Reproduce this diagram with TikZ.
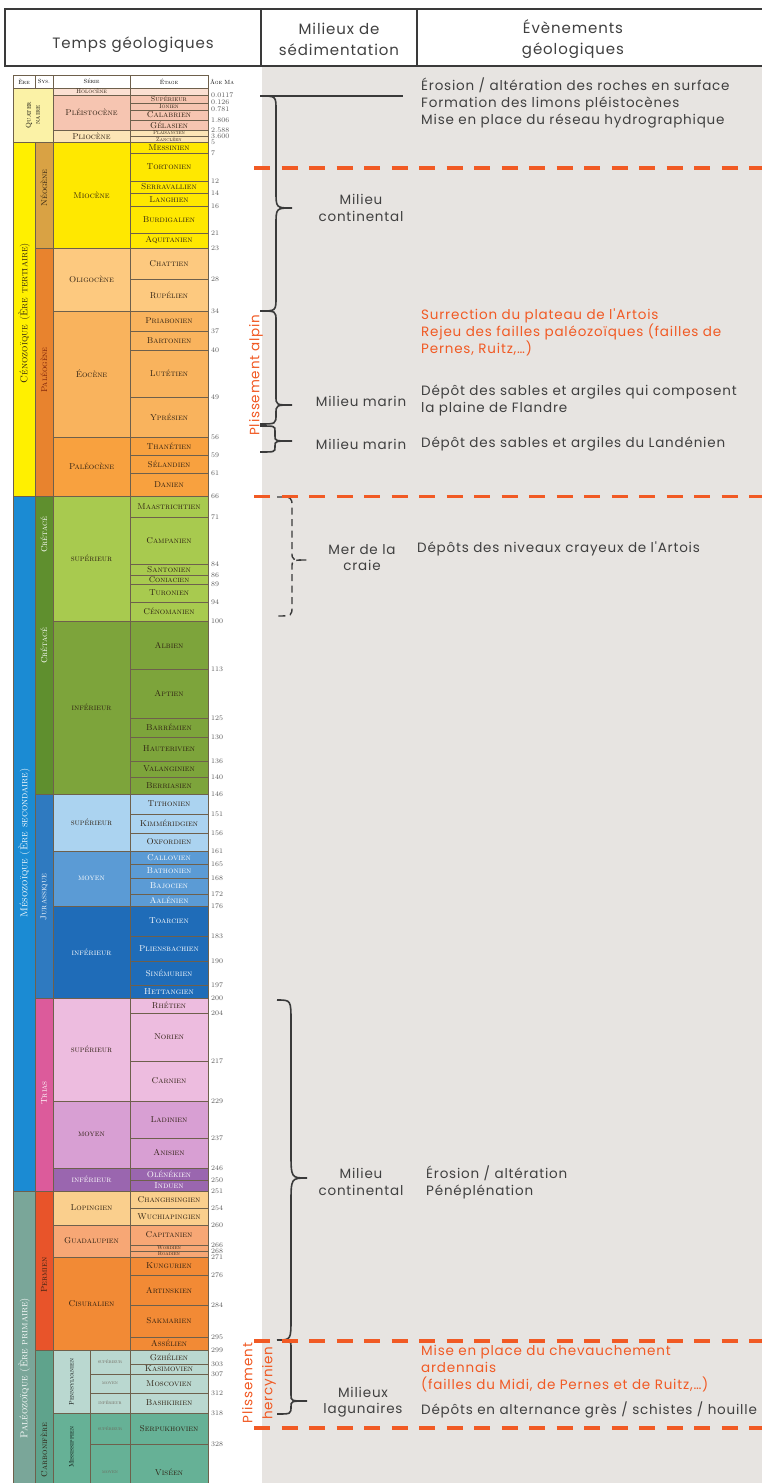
\documentclass[tikz,border=0pt]{standalone}
\usepackage{fontspec}
\newfontfamily\geofont[LetterSpace=6]{Poppins}
\usetikzlibrary{positioning}

% couleurs de l'echelle stratigraphique
\definecolor{quater}{HTML}{FBF2A6}
\definecolor{holo}{HTML}{FBE0D2}
\definecolor{pleisto}{HTML}{F6C5B1}
\definecolor{plio}{HTML}{FCE5B6}
\definecolor{mio}{HTML}{FFE800}
\definecolor{neog}{HTML}{D9A244}
\definecolor{cenoz}{HTML}{FFF000}
\definecolor{oligo}{HTML}{FDC97F}
\definecolor{eoc}{HTML}{F9B35D}
\definecolor{paleoc}{HTML}{F8A13F}
\definecolor{paleog}{HTML}{E8832E}
\definecolor{cretsup}{HTML}{A8CA4F}
\definecolor{cretinf}{HTML}{7DA43B}
\definecolor{cret}{HTML}{5F8F2E}
\definecolor{mesoz}{HTML}{1B8BD3}
\definecolor{jursup}{HTML}{ABD3F0}
\definecolor{jurmoy}{HTML}{5B9BD5}
\definecolor{jurinf}{HTML}{1F6CB8}
\definecolor{jur}{HTML}{2F7AC0}
\definecolor{triasup}{HTML}{EDBCDF}
\definecolor{triamoy}{HTML}{D89FD3}
\definecolor{triainf}{HTML}{9A66AF}
\definecolor{trias}{HTML}{DC5B9B}
\definecolor{loping}{HTML}{FACF8D}
\definecolor{guadal}{HTML}{F7A775}
\definecolor{cisur}{HTML}{F28A35}
\definecolor{perm}{HTML}{E8542A}
\definecolor{paleoz}{HTML}{7AA699}
\definecolor{pennsyl}{HTML}{BAD8D0}
\definecolor{mississ}{HTML}{66B196}
\definecolor{carbo}{HTML}{5FA38C}
% couleurs de la mise en page
\definecolor{fond}{HTML}{E7E4E1}
\definecolor{trait}{HTML}{3A3A3A}
\definecolor{texte}{HTML}{404040}
\definecolor{tecto}{HTML}{F15A24}
\definecolor{bordure}{HTML}{6E604C}
\definecolor{brun}{HTML}{2E2012}
\definecolor{rougebrun}{HTML}{7A1E08}
\definecolor{chiffre}{HTML}{5A5A5A}

\tikzset{
  cadre/.style = {draw = trait, line width = 1.3pt},
  etage/.style = {draw = bordure, line width = 0.5pt},
  nometage/.style = {inner sep = 0pt},
  nomserie/.style = {font = \fontsize{8.5}{9}\selectfont\scshape, inner sep = 0pt},
  nomsysteme/.style = {font = \fontsize{8.5}{9}\selectfont\scshape, rotate = 90, inner sep = 0pt, align = center},
  nomere/.style = {font = \fontsize{10}{11}\selectfont\scshape, rotate = 90, inner sep = 0pt},
  ageMa/.style = {font = \fontsize{7}{7}\selectfont, text = chiffre, anchor = west, inner sep = 0pt},
  entete/.style = {font = \geofont\fontsize{15}{21}\selectfont, text = texte, align = center},
  milieu/.style = {font = \geofont\fontsize{13.5}{16.5}\selectfont, text = texte, align = center},
  evenement/.style = {font = \geofont\fontsize{13.5}{17}\selectfont, text = texte, align = left, anchor = west, inner sep = 0pt},
  tectonique/.style = {evenement, text = tecto},
  accol/.style = {draw = trait, line width = 1.6pt},
  limite/.style = {draw = tecto, line width = 3.6pt, dash pattern = on 16pt off 11.5pt},
}

% accolade : style, x bouts, x corps, x pointe, y haut, y pointe, y bas, rayon bouts, rayon pointe
\newcommand{\accolade}[9]{%
  \draw[#1] (#2,#5) .. controls (#3,#5) .. (#3,{#5+#8}) -- (#3,{#6-#9})
    .. controls (#3,#6) .. (#4,#6) .. controls (#3,#6) .. (#3,{#6+#9})
    -- (#3,{#7-#8}) .. controls (#3,#7) .. (#2,#7);}

\begin{document}
\begin{tikzpicture}[x = 1pt, y = -1pt]
\useasboundingbox (0,0) rectangle (762,1483);
\fill[white] (0,0) rectangle (762,1483);
\fill[fond] (262,66) rectangle (762,1483);

% en-tete
\draw[cadre] (762,9) -- (5,9) -- (5,66) -- (762,66);
\draw[cadre] (261,9) -- (261,66);
\draw[cadre] (417,9) -- (417,66);
\node[entete] (htemps) at (133,45) {Temps géologiques};
\node[entete] (hmilieux) at (339,39) {Milieux de\\sédimentation};
\node[entete] (hevts) at (573,39) {Évènements\\géologiques};

%%% echelle stratigraphique
\draw[etage, fill = white] (13,75) rectangle (208,88);
\foreach \xa/\xb/\nom [count = \i] in {13/35/Ère, 35/53/Sys., 53/130/Série, 130/208/Étage}
  \draw[etage] (\xa,75) rectangle (\xb,88) node (tete\i) [midway, font = \fontsize{6}{6}\selectfont\scshape] {\nom};
\node (teteage) [anchor = west, inner sep = 0pt, font = \fontsize{6}{6}\selectfont\scshape] at (210,81.5) {Âge Ma};

% series
\foreach \ya/\yb/\fc/\nom/\tc [count = \i] in {
  88/95/holo/Holocène/brun, 95/130/pleisto/Pléistocène/brun, 130/142/plio/Pliocène/brun,
  142/248/mio/Miocène/brun, 248/311/oligo/Oligocène/brun, 311/437/eoc/Éocène/brun,
  437/496/paleoc/Paléocène/brun, 496/621/cretsup/supérieur/brun, 621/794/cretinf/inférieur/brun,
  794/851/jursup/supérieur/brun, 851/906/jurmoy/moyen/white, 906/998/jurinf/inférieur/white,
  998/1101/triasup/supérieur/brun, 1101/1168/triamoy/moyen/brun, 1168/1191/triainf/inférieur/white,
  1191/1225/loping/Lopingien/brun, 1225/1257/guadal/Guadalupien/brun, 1257/1350/cisur/Cisuralien/brun}
{
  \fill[\fc] (53,\ya) rectangle (208,\yb);
  \draw[etage] (53,\ya) rectangle (130,\yb);
  \pgfmathsetmacro\fsize{min(8.5,(\yb-\ya)*0.9)}
  \node[nomserie, text = \tc, font = \fontsize{\fsize}{\fsize}\selectfont\scshape] (serie\i) at (91.5,{(\ya+\yb)/2}) {\nom};
}
\draw[etage] (130,88) rectangle (208,95);

% carbonifere : sous-systemes et series
\fill[pennsyl] (53,1350) rectangle (208,1413);
\fill[mississ] (53,1413) rectangle (208,1500);
\draw[etage] (53,1350) rectangle (90,1413);
\draw[etage] (53,1413) rectangle (90,1500);
\node[nomserie, rotate = 90, font = \fontsize{6.5}{7}\selectfont\scshape] (pennsyl) at (71.5,1382) {Pennsylvanien};
\node[nomserie, rotate = 90, font = \fontsize{6.5}{7}\selectfont\scshape] (mississ) at (71.5,1447) {Mississippien};
\foreach \ya/\yb/\nom [count = \i] in {1350/1374/supérieur, 1374/1393/moyen, 1393/1413/inférieur, 1413/1444/supérieur, 1444/1500/moyen}
{
  \draw[etage] (90,\ya) rectangle (130,\yb);
  \node[nomserie, font = \fontsize{5}{5}\selectfont\scshape, text = brun!70] (carbserie\i) at (110,{(\ya+\yb)/2}) {\nom};
}

% etages
\foreach \ya/\yb/\nom/\tc [count = \i] in {
  95/103/Supérieur/brun, 103/110/Ionien/brun, 110/120/Calabrien/brun, 120/130/Gélasien/brun,
  130/136/Plaisancien/brun, 136/142/Zancléen/brun,
  142/153/Messinien/brun, 153/181/Tortonien/brun, 181/193/Serravallien/brun, 193/206/Langhien/brun,
  206/233/Burdigalien/brun, 233/248/Aquitanien/brun,
  248/279/Chattien/brun, 279/311/Rupélien/brun,
  311/331/Priabonien/brun, 331/350/Bartonien/brun, 350/397/Lutétien/brun, 397/437/Yprésien/brun,
  437/455/Thanétien/brun, 455/473/Sélandien/brun, 473/496/Danien/brun,
  496/517/Maastrichtien/brun, 517/564/Campanien/brun, 564/575/Santonien/brun, 575/584/Coniacien/brun,
  584/602/Turonien/brun, 602/621/Cénomanien/brun,
  621/669/Albien/brun, 669/718/Aptien/brun, 718/737/Barrémien/brun, 737/761/Hauterivien/brun,
  761/777/Valanginien/brun, 777/794/Berriasien/brun,
  794/814/Tithonien/brun, 814/833/Kimméridgien/brun, 833/851/Oxfordien/brun,
  851/864/Callovien/white, 864/878/Bathonien/white, 878/894/Bajocien/white, 894/906/Aalénien/white,
  906/936/Toarcien/white, 936/961/Pliensbachien/white, 961/985/Sinémurien/white, 985/998/Hettangien/white,
  998/1013/Rhétien/brun, 1013/1061/Norien/brun, 1061/1101/Carnien/brun,
  1101/1138/Ladinien/brun, 1138/1168/Anisien/brun, 1168/1180/Olénékien/white, 1180/1191/Induen/white,
  1191/1208/Changhsingien/brun, 1208/1225/Wuchiapingien/brun, 1225/1245/Capitanien/brun,
  1245/1251/Wordien/brun, 1251/1257/Roadien/brun, 1257/1275/Kungurien/brun, 1275/1305/Artinskien/brun,
  1305/1337/Sakmarien/brun, 1337/1350/Assélien/brun,
  1350/1364/Gzhélien/brun, 1364/1374/Kasimovien/brun, 1374/1393/Moscovien/brun, 1393/1413/Bashkirien/brun,
  1413/1444/Serpukhovien/brun, 1444/1500/Viséen/brun}
{
  \draw[etage] (130,\ya) rectangle (208,\yb);
  \pgfmathsetmacro\fsize{min(8.5,(\yb-\ya)*0.9)}
  \node[nometage, text = \tc, font = \fontsize{\fsize}{\fsize}\selectfont\scshape] (etage\i) at (169,{(\ya+\yb)/2}) {\nom};
}

% systemes
\fill[quater] (13,88) rectangle (53,142);
\draw[etage] (13,88) rectangle (53,142);
\node[nomsysteme, font = \fontsize{7}{9}\selectfont\scshape] (quaternaire) at (33,115) {Quater\\naire};
\foreach \ya/\yb/\fc/\nom/\tc/\ym [count = \i] in {
  142/248/neog/Néogène/brun/188, 248/496/paleog/Paléogène/rougebrun/370,
  496/794/cret/Crétacé/white/535, 794/998/jur/Jurassique/white/897,
  998/1191/trias/Trias/white/1093, 1191/1350/perm/Permien/brun/1275,
  1350/1500/carbo/Carbonifère/brun/1450}
{
  \fill[\fc] (35,\ya) rectangle (53,\yb);
  \draw[etage] (35,\ya) rectangle (53,\yb);
  \node[nomsysteme, text = \tc] (systeme\i) at (44,\ym) {\nom};
}
\node[nomsysteme, text = white] (cretinf) at (44,646) {Crétacé};

% eres
\foreach \ya/\yb/\fc/\nom/\tc/\ym [count = \i] in {
  142/496/cenoz/Cénozoïque (Ère tertiaire)/brun/313,
  496/1191/mesoz/Mésozoïque (Ère secondaire)/white/843,
  1191/1500/paleoz/Paléozoïque (Ère primaire)/white/1368}
{
  \fill[\fc] (13,\ya) rectangle (35,\yb);
  \draw[etage] (13,\ya) rectangle (35,\yb);
  \node[nomere, text = \tc] (ere\i) at (24,\ym) {\nom};
}

% ages en Ma
\foreach \y/\a [count = \i] in {
  95/0.0117, 102/0.126, 109/0.781, 120/1.806, 130/2.588, 136/3.600, 142/5, 153/7, 181/12, 193/14,
  206/16, 233/21, 248/23, 279/28, 311/34, 331/37, 350/40, 397/49, 437/56, 455/59, 473/61, 496/66,
  517/71, 564/84, 575/86, 584/89, 602/94, 621/100, 669/113, 718/125, 737/130, 761/136, 777/140,
  794/146, 814/151, 833/156, 851/161, 864/165, 878/168, 894/172, 906/176, 936/183, 961/190,
  985/197, 998/200, 1013/204, 1061/217, 1101/229, 1138/237, 1168/246, 1180/250, 1191/251,
  1208/254, 1225/260, 1245/266, 1251/268, 1257/271, 1275/276, 1305/284, 1337/295, 1350/299,
  1364/303, 1374/307, 1393/312, 1413/318, 1444/328}
  \node[ageMa] (age\i) at (211,\y) {\a};

%%% accolades des milieux
\draw[accol] (260,96) -- (403,96);
\accolade{accol}{260}{276}{292}{96}{208}{311}{14}{17}
\accolade{accol}{260}{276}{292}{311}{405}{424}{10}{9}
\accolade{accol}{260}{275}{292}{426}{441}{452}{5}{5}
\accolade{accol, line width = 1.4pt, dash pattern = on 7pt off 4.5pt}{277}{292}{307}{497}{560}{616}{10}{8}
\accolade{accol}{277}{291}{307}{1000}{1178}{1340}{22}{26}
\accolade{accol}{277}{291}{307}{1340}{1401}{1414}{8}{6}

% limites des grandes phases
\coordinate (lim1) at (254,168);
\coordinate (lim2) at (254,496.5);
\coordinate (lim3) at (254,1341);
\coordinate (lim4) at (254,1428);
\foreach \l in {lim1, lim2, lim3, lim4}
  \draw[limite] (\l) -- (\l -| 762,0);

% plissements
\node[tectonique, anchor = center, rotate = 90] (alpin) at (256,375) {Plissement alpin};
\node[tectonique, anchor = center, rotate = 90, align = center, font = \geofont\fontsize{13.5}{20}\selectfont] (hercyn) at (259,1383) {Plissement\\hercynien};

% milieux de sedimentation
\node[milieu] (cont1) at (361,208) {Milieu\\continental};
\node[milieu] (marin1) at (361,401) {Milieu marin};
\node[milieu] (marin2) at (361,444) {Milieu marin};
\node[milieu] (craie) at (362,557.5) {Mer de la\\craie};
\node[milieu] (cont2) at (361,1182) {Milieu\\continental};
\node[milieu] (lagune) at (363,1402) {Milieux\\lagunaires};

% evenements geologiques
\node[evenement] (evt1) at (421,103) {Érosion / altération des roches en surface\\Formation des limons pléistocènes\\Mise en place du réseau hydrographique};
\node[tectonique] (evt2) at (421,332) {Surrection du plateau de l'Artois\\Rejeu des failles paléozoïques (failles de\\Pernes, Ruitz,\dots)};
\node[evenement] (evt3) at (421,400) {Dépôt des sables et argiles qui composent\\la plaine de Flandre};
\node[evenement] (evt4) at (421,444) {Dépôt des sables et argiles du Landénien};
\node[evenement] (evt5) at (417,549) {Dépôts des niveaux crayeux de l'Artois};
\node[evenement] (evt6) at (426,1182) {Érosion / altération\\Pénéplénation};
\node[tectonique] (evt7) at (421,1369) {Mise en place du chevauchement\\ardennais\\(failles du Midi, de Pernes et de Ruitz,\dots)};
\node[evenement] (evt8) at (421,1410) {Dépôts en alternance grès / schistes / houille};

\end{tikzpicture}
\end{document}
